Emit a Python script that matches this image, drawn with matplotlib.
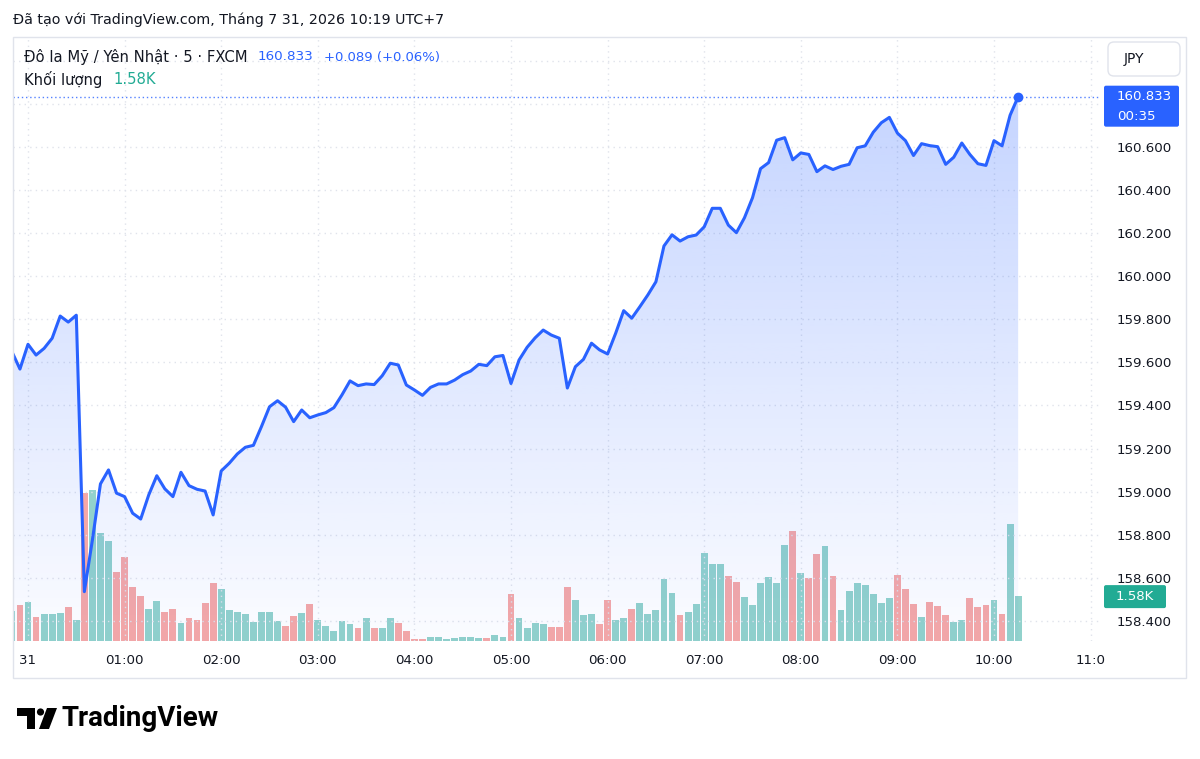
import numpy as np
import matplotlib
matplotlib.use('Agg')
from matplotlib import pyplot as plt
from matplotlib.patches import FancyBboxPatch, Rectangle, Polygon, Circle
from matplotlib.colors import to_rgb

W, H = 1200, 759

# 5 minute bars, bar 0 = 00:00 on the 31st
bar_start = -2
close = [
    159.650, 159.569, 159.684, 159.634, 159.665, 159.712, 159.815, 159.787, 159.819, 158.536,
    158.776, 159.036, 159.101, 158.993, 158.977, 158.900, 158.873, 158.985, 159.074, 159.013,
    158.977, 159.090, 159.028, 159.011, 159.003, 158.892, 159.096, 159.132, 159.175, 159.206,
    159.215, 159.302, 159.394, 159.422, 159.392, 159.325, 159.379, 159.343, 159.356, 159.367,
    159.390, 159.449, 159.514, 159.492, 159.500, 159.497, 159.538, 159.596, 159.588, 159.495,
    159.472, 159.447, 159.484, 159.500, 159.500, 159.518, 159.543, 159.560, 159.591, 159.585,
    159.626, 159.632, 159.502, 159.611, 159.670, 159.714, 159.750, 159.727, 159.712, 159.481,
    159.580, 159.614, 159.689, 159.658, 159.639, 159.735, 159.840, 159.805, 159.858, 159.913,
    159.974, 160.140, 160.192, 160.163, 160.183, 160.191, 160.229, 160.315, 160.315, 160.237,
    160.202, 160.271, 160.364, 160.499, 160.527, 160.631, 160.643, 160.540, 160.572, 160.565,
    160.485, 160.512, 160.495, 160.510, 160.519, 160.596, 160.605, 160.668, 160.712, 160.737,
    160.664, 160.629, 160.560, 160.615, 160.606, 160.601, 160.519, 160.552, 160.618, 160.565,
    160.522, 160.514, 160.629, 160.605, 160.747, 160.833,
]
volume = [
    1045, 1257, 1373, 845, 961, 961, 996, 1186, 750, 5220,
    5305, 3802, 3520, 2418, 2957, 1890, 1573, 1126, 1408, 1031,
    1126, 634, 820, 750, 1348, 2042, 1820, 1091, 1010, 961,
    658, 1031, 1031, 693, 528, 869, 975, 1313, 729, 517,
    341, 693, 588, 468, 820, 468, 468, 820, 623, 341,
    60, 60, 130, 130, 60, 95, 130, 130, 95, 95,
    211, 158, 1637, 820, 468, 634, 598, 503, 503, 1890,
    1454, 915, 950, 598, 1454, 750, 820, 1137, 1348, 950,
    1102, 2172, 1700, 915, 1010, 1292, 3108, 2700, 2700, 2277,
    2077, 1538, 1257, 2052, 2242, 2052, 3379, 3872, 2387, 2211,
    3073, 3351, 2274, 1098, 1771, 2059, 1961, 1644, 1327, 1517,
    2337, 1834, 1288, 848, 1366, 1225, 912, 669, 722, 1517,
    1200, 1264, 1429, 947, 4108, 1580,
]
# u = up candle, d = down candle (one letter per bar)
direction = ("ududuuudud" "uuudddduud" "dudddduuuu" "uuuudduduu" "uuududuudd"
             "dduuuuuuud" "uuduuuuddd" "uuudduuduu" "uuuduuuuud" "duuuuuudud"
             "duduuuuuuu" "ddduddduud" "dduduu")

hour_ticks = list(range(0, 12))
hour_labels = ['31', '01:00', '02:00', '03:00', '04:00', '05:00', '06:00',
               '07:00', '08:00', '09:00', '10:00', '11:0']
price_grid = [158.4, 158.6, 158.8, 159.0, 159.2, 159.4, 159.6, 159.8,
              160.0, 160.2, 160.4, 160.6, 160.8, 161.0]
price_labelled_max = 160.6
change, change_pct = 0.089, 0.06
last_volume_text = '1.58K'
countdown = '00:35'

BLUE = '#2962ff'
TEAL = '#22ab94'
TXT = '#131722'
GRID = '#e0e3eb'

plt.rcParams['font.family'] = ['DejaVu Sans']

t = (np.arange(len(close)) + bar_start) / 12.0
up_col = to_rgb('#26a69a') + (0.5,)
dn_col = to_rgb('#ef5350') + (0.5,)
bar_colors = [up_col if d == 'u' else dn_col for d in direction]

fig = plt.figure(figsize=(W / 100, H / 100), dpi=100)
fig.patch.set_facecolor('white')

left, right, top, bottom = 13, 1100, 37, 641
ax = fig.add_axes([left / W, 1 - bottom / H, (right - left) / W, (bottom - top) / H])
axv = ax.twinx()
ax.set_zorder(axv.get_zorder() + 1)
ax.patch.set_visible(False)

xlim = ((left - 28) / 96.6, (right - 28) / 96.6)
ylim = (158.307, 161.110)

# volume
axv.bar(t, volume, width=0.85 / 12, color=bar_colors, linewidth=0)
axv.set_ylim(0, 21260)
axv.set_yticks([])
for s in axv.spines.values():
    s.set_visible(False)

# gradient area under the line
grad = np.linspace(0.02, 0.27, 256)
rgba = np.zeros((256, 1, 4))
rgba[..., :3] = to_rgb(BLUE)
rgba[..., 3] = grad[:, None]
im = ax.imshow(rgba, extent=[t[0], t[-1], ylim[0], max(close)], origin='lower',
               aspect='auto', zorder=1, interpolation='bilinear')
poly = ax.fill_between(t, close, ylim[0], facecolor='none', edgecolor='none')
im.set_clip_path(poly.get_paths()[0], transform=ax.transData)

ax.plot(t, close, color=BLUE, lw=2.2, zorder=3, solid_joinstyle='round')
ax.plot(t[-1], close[-1], 'o', color=BLUE, ms=6, zorder=4)
ax.axhline(close[-1], color=BLUE, lw=1, ls=(0, (1, 2)), zorder=2, alpha=0.8)

ax.set_xlim(*xlim)
ax.set_ylim(*ylim)
ax.set_xticks(hour_ticks, labels=hour_labels)
ax.set_yticks(price_grid, labels=[f'{p:.3f}' if p <= price_labelled_max + 1e-9 else ''
                                  for p in price_grid])
ax.yaxis.tick_right()
ax.grid(True, color=GRID, ls=(0, (1, 3)), lw=1)
ax.set_axisbelow(True)
ax.tick_params(axis='y', length=0, pad=12, labelsize=9.6, labelcolor=TXT)
ax.tick_params(axis='x', length=0, pad=9, labelsize=9.6, labelcolor=TXT)
for s in ax.spines.values():
    s.set_visible(False)

# overlay in pixel coordinates for the TradingView furniture
ov = fig.add_axes([0, 0, 1, 1], zorder=10)
ov.set_xlim(0, W)
ov.set_ylim(H, 0)
ov.axis('off')
ov.patch.set_visible(False)

ov.add_patch(Rectangle((13, 37), 1173, 641, fill=False, ec=GRID, lw=1))

ov.text(13, 20, 'Đã tạo với TradingView.com, Tháng 7 31, 2026 10:19 UTC+7',
        fontsize=10.3, color=TXT, va='center')
ov.text(24, 57, 'Đô la Mỹ / Yên Nhật · 5 · FXCM', fontsize=10.6, color=TXT, va='center')
ov.text(258, 57, f'{close[-1]:.3f}', fontsize=9.7, color=BLUE, va='center')
ov.text(324, 57, f'{change:+.3f} ({change_pct:+.2f}%)', fontsize=9.5, color=BLUE, va='center')
ov.text(24, 80, 'Khối lượng', fontsize=10.6, color=TXT, va='center')
ov.text(113, 80, last_volume_text, fontsize=10.6, color=TEAL, va='center')

ov.add_patch(FancyBboxPatch((1108, 42), 72, 34, boxstyle='round,pad=0,rounding_size=6',
                            fc='white', ec=GRID, lw=1))
ov.text(1134, 59, 'JPY', fontsize=10, color=TXT, va='center', ha='center')

py = H - ax.transData.transform((0, close[-1]))[1]
ov.add_patch(FancyBboxPatch((1104, py - 11), 75, 41, boxstyle='round,pad=0,rounding_size=2',
                            fc=BLUE, ec='none'))
ov.text(1117, py, f'{close[-1]:.3f}', fontsize=9.6, color='white', va='center')
ov.text(1117, py + 20, countdown, fontsize=9.6, color='white', va='center')

vy = H - axv.transData.transform((0, volume[-1]))[1]
ov.add_patch(FancyBboxPatch((1104, vy - 11), 62, 23, boxstyle='round,pad=0,rounding_size=2',
                            fc=TEAL, ec='none'))
ov.text(1135, vy, last_volume_text, fontsize=9.6, color='white', va='center', ha='center')

# logo
ov.add_patch(Polygon([(17, 708), (35, 708), (35, 729), (27, 729), (27, 716), (17, 716)],
                     closed=True, fc='black', ec='none'))
ov.add_patch(Circle((40.5, 712), 3.6, fc='black', ec='none'))
ov.add_patch(Polygon([(47, 708), (57, 708), (49, 729), (39, 729)], closed=True,
                     fc='black', ec='none'))
ov.text(62, 719, 'TradingView', fontsize=20, fontweight='bold', color='black',
        va='center', family=['Roboto', 'DejaVu Sans'])

fig.savefig('out.png', dpi=100, facecolor='white')
